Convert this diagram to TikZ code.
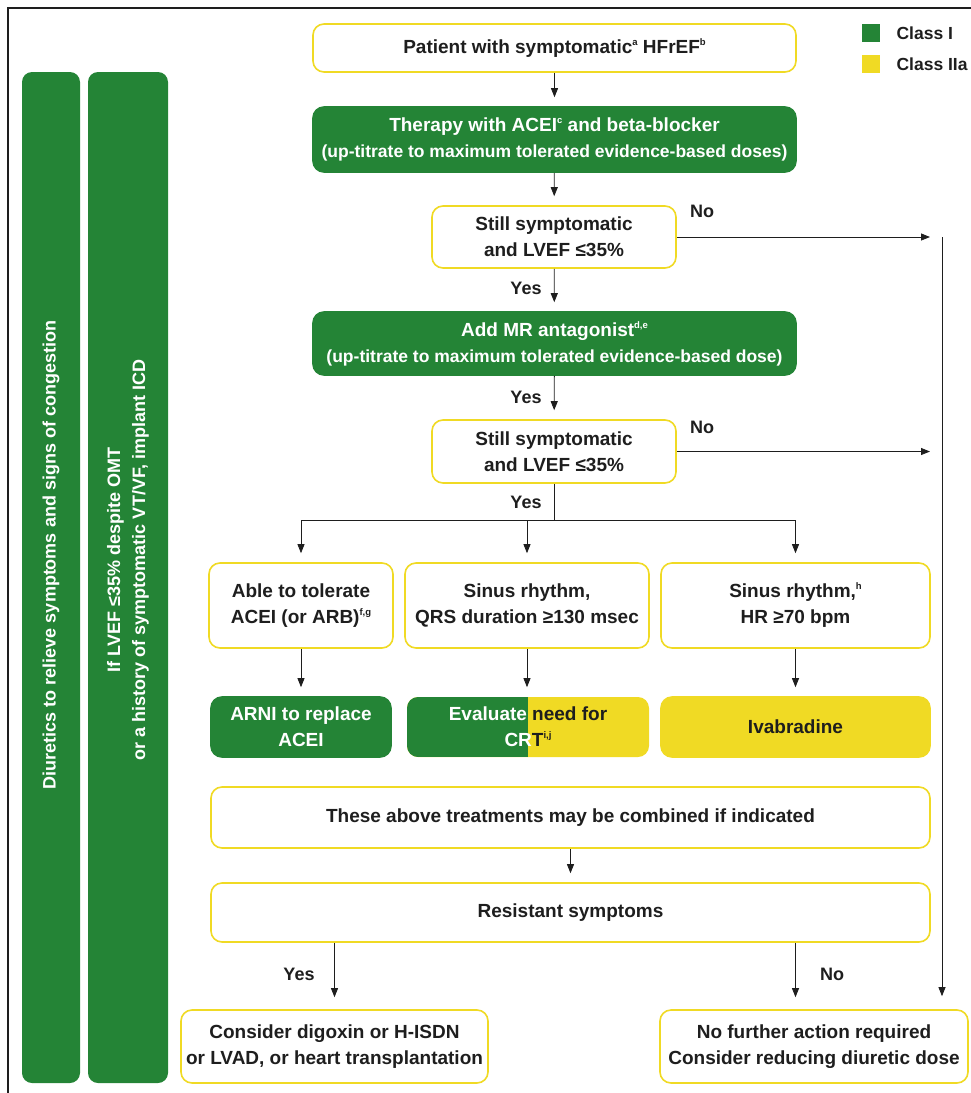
\documentclass[tikz,border=0pt]{standalone}
\usepackage{fontspec}
\setmainfont{Liberation Sans}
\usetikzlibrary{arrows.meta}

\definecolor{classI}{RGB}{36,132,54}
\definecolor{classIIa}{RGB}{240,218,36}
\definecolor{ink}{RGB}{30,30,30}

\newcommand\subfont{\fontsize{17.5}{24}\selectfont}
\newcommand\fnmark[1]{\raisebox{0.8ex}{\fontsize{9.5}{9.5}\selectfont #1}}

\tikzset{
  box/.style={draw=classIIa, line width=1.6pt, rounded corners=11pt, fill=white,
    align=center, text=ink, inner sep=0pt, font=\bfseries\fontsize{19}{26}\selectfont},
  greenbox/.style={box, draw=classI, fill=classI, text=white},
  yellowbox/.style={box, draw=classIIa, fill=classIIa},
  splitbox/.style={box, draw=none, fill=classIIa,
    path picture={\fill[classI, sharp corners] (path picture bounding box.south west) rectangle (path picture bounding box.north);}},
  sidebar/.style={fill=classI, rounded corners=10pt, rotate=90, minimum width=1011pt, inner sep=0pt},
  bartext/.style={rotate=90, text=white, align=center, font=\bfseries\fontsize{18}{25}\selectfont},
  key/.style={minimum size=18pt, inner sep=0pt},
  keytext/.style={anchor=west, text=ink, font=\bfseries\fontsize{17.5}{20}\selectfont},
  lbl/.style={text=ink, font=\bfseries\fontsize{18}{20}\selectfont},
  arr/.style={-{Triangle[length=9pt,width=7pt]}, draw=ink, line width=0.8pt, shorten >=9pt},
  line/.style={draw=ink, line width=0.8pt}
}

\begin{document}
\begin{tikzpicture}[x=1pt,y=-1pt]
  \useasboundingbox (0,0) rectangle (971,1093);

  % Define the frame and the legend
  \draw[line width=2pt, ink] (8,1093) -- (8,8) -- (971,8);
  \node[key, fill=classI] (keyI) at (871,33) {};
  \node[keytext] (keyItext) at (893,33) {Class I};
  \node[key, fill=classIIa] (keyIIa) at (871,64) {};
  \node[keytext] (keyIIatext) at (893,64) {Class IIa};

  % Define the side bars
  \node[sidebar, minimum height=58pt] (diurbar) at (51,577.5) {};
  \node[sidebar, minimum height=80pt] (icdbar) at (128,577.5) {};
  \node[bartext] (diur) at (51,555) {Diuretics to relieve symptoms and signs of congestion};
  \node[bartext] (icd) at (128,560) {If LVEF ≤35\% despite OMT\\ or a history of symptomatic VT/VF, implant ICD};

  % Define the positions of the nodes
  \node[box, minimum width=483pt, minimum height=48pt] (patient) at (554.5,48) {Patient with symptomatic\fnmark{a} HFrEF\fnmark{b}};
  \node[greenbox, minimum width=483pt, minimum height=65pt] (acei) at (554.5,139.5) {Therapy with ACEI\fnmark{c} and beta-blocker\\ {\subfont (up-titrate to maximum tolerated evidence-based doses)}};
  \node[box, minimum width=244pt, minimum height=62pt] (still1) at (554,237) {Still symptomatic\\ and LVEF ≤35\%};
  \node[greenbox, minimum width=483pt, minimum height=63pt] (mra) at (554.5,343.5) {Add MR antagonist\fnmark{d,e}\\ {\subfont (up-titrate to maximum tolerated evidence-based dose)}};
  \node[box, minimum width=244pt, minimum height=63pt] (still2) at (554,451.5) {Still symptomatic\\ and LVEF ≤35\%};

  \node[box, minimum width=184pt, minimum height=85pt] (tolerate) at (301,605.5) {Able to tolerate\\ ACEI (or ARB)\fnmark{f,g}};
  \node[box, minimum width=244pt, minimum height=85pt] (qrs) at (527,605.5) {Sinus rhythm,\\ QRS duration ≥130 msec};
  \node[box, minimum width=269pt, minimum height=85pt] (hr) at (795.5,605.5) {Sinus rhythm,\fnmark{h}\\ HR ≥70 bpm};

  \node[greenbox, minimum width=180pt, minimum height=60pt] (arni) at (301,727) {ARNI to replace\\ ACEI};
  \node[splitbox, minimum width=242pt, minimum height=60pt] (crt) at (528,727) {\textcolor{white}{Evaluate} need for\\ \textcolor{white}{CR}T\fnmark{i,j}};
  \node[yellowbox, minimum width=269pt, minimum height=60pt] (ivab) at (795.5,727) {Ivabradine};

  \node[box, minimum width=719pt, minimum height=61pt] (combine) at (570.5,817.5) {These above treatments may be combined if indicated};
  \node[box, minimum width=719pt, minimum height=59pt] (resist) at (570.5,912.5) {Resistant symptoms};

  \node[box, minimum width=307pt, minimum height=73pt] (further) at (334.5,1046.5) {Consider digoxin or H-ISDN\\ or LVAD, or heart transplantation};
  \node[box, minimum width=308pt, minimum height=73pt] (noaction) at (814,1046.5) {No further action required\\ Consider reducing diuretic dose};

  \coordinate (split) at (554,520);
  \coordinate (rail) at (942,237);

  % Yes / No labels
  \node[lbl] (no1) at (702,211) {No};
  \node[lbl] (yes1) at (526,288) {Yes};
  \node[lbl] (yes2) at (526,397) {Yes};
  \node[lbl] (no2) at (702,427) {No};
  \node[lbl] (yes3) at (526,502) {Yes};
  \node[lbl] (yes4) at (299,974) {Yes};
  \node[lbl] (no3) at (832,974) {No};

  % Draw the edges
  \draw[arr] (patient) -- (acei);
  \draw[arr] (acei) -- (still1);
  \draw[arr] (still1) -- (mra);
  \draw[arr] (mra) -- (still2);
  \draw[arr, shorten >=12pt] (still1) -- (rail);
  \draw[arr, shorten >=12pt] (still2) -- (rail |- still2);
  \draw[arr, shorten >=13pt] (rail) -- (rail |- noaction.north);
  \draw[line] (still2.south) -- (split);
  \draw[line] (tolerate |- split) -- (hr |- split);
  \draw[arr] (tolerate |- split) -- (tolerate.north);
  \draw[arr] (qrs |- split) -- (qrs.north);
  \draw[arr] (hr |- split) -- (hr.north);
  \draw[arr] (tolerate) -- (arni);
  \draw[arr] (qrs.south) -- (qrs.south |- crt.north);
  \draw[arr] (hr) -- (ivab);
  \draw[arr] (combine) -- (resist);
  \draw[arr, shorten >=12pt] (further |- resist.south) -- (further.north);
  \draw[arr, shorten >=12pt] (hr |- resist.south) -- (hr |- noaction.north);
\end{tikzpicture}
\end{document}
